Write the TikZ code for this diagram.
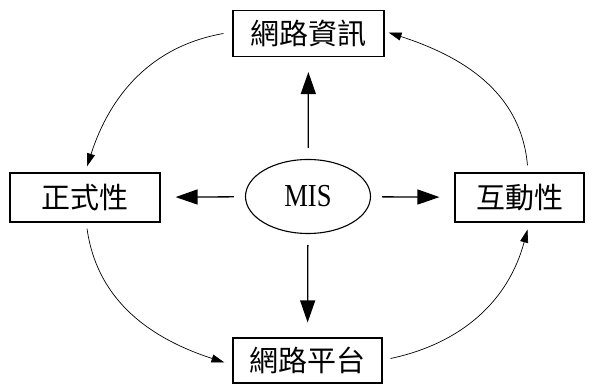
\documentclass[tikz,border=0pt]{standalone}
\usepackage{fontspec}
\usepackage{graphicx}
\setmainfont{Liberation Serif}
\newfontfamily\cjk{Noto Sans CJK TC}
\usetikzlibrary{arrows.meta,shapes.geometric}
\tikzset{
  box/.style={draw, line width=1.1pt, rectangle, inner sep=0pt,
    font=\cjk\fontsize{29}{32}\selectfont},
  arr/.style={line width=1.3pt, -{Triangle[length=22pt,width=15pt]},
    shorten <=11pt, shorten >=15pt},
  carr/.style={line width=0.7pt, -{Triangle[length=13pt,width=8pt]}}
}
\begin{document}
\begin{tikzpicture}[x=1pt,y=1pt]
\useasboundingbox (0,0) rectangle (595,385);
\node[box, minimum width=151pt, minimum height=46pt] (top) at (308.5,351.5) {網路資訊};
\node[box, minimum width=150pt, minimum height=49pt] (left) at (85,187.5) {正式性};
\node[box, minimum width=129pt, minimum height=49pt] (right) at (519.5,187.5) {互動性};
\node[box, minimum width=149pt, minimum height=45pt] (bottom) at (307.5,24.5) {網路平台};
\node[draw, line width=1.1pt, ellipse, minimum width=125pt, minimum height=74pt,
  inner sep=0pt, font=\fontsize{32}{34}\selectfont] (mis) at (308,188.5) {\scalebox{0.83}[1]{MIS}};

\draw[arr] (mis) -- (top);
\draw[arr] (mis) -- (left);
\draw[arr] (mis) -- (right);
\draw[arr] (mis) -- (bottom);

\coordinate (c1s) at ([xshift=-9pt]top.west);
\coordinate (c1e) at ([xshift=2pt,yshift=6pt]left.north);
\coordinate (c2s) at ([xshift=8pt,yshift=7pt]right.north);
\coordinate (c2e) at ([xshift=4pt,yshift=1pt]top.east);
\coordinate (c3s) at ([xshift=2pt,yshift=-6pt]left.south);
\coordinate (c3e) at ([xshift=-8pt,yshift=-2pt]bottom.west);
\coordinate (c4s) at ([xshift=8pt,yshift=2pt]bottom.east);
\coordinate (c4e) at ([xshift=8pt,yshift=-7pt]right.south);

\draw[carr] (c1s) to[out=190, in=72] (c1e);
\draw[carr] (c2s) to[out=95, in=-18] (c2e);
\draw[carr] (c3s) to[out=-82, in=162] (c3e);
\draw[carr] (c4s) to[out=12, in=-105] (c4e);
\end{tikzpicture}
\end{document}
